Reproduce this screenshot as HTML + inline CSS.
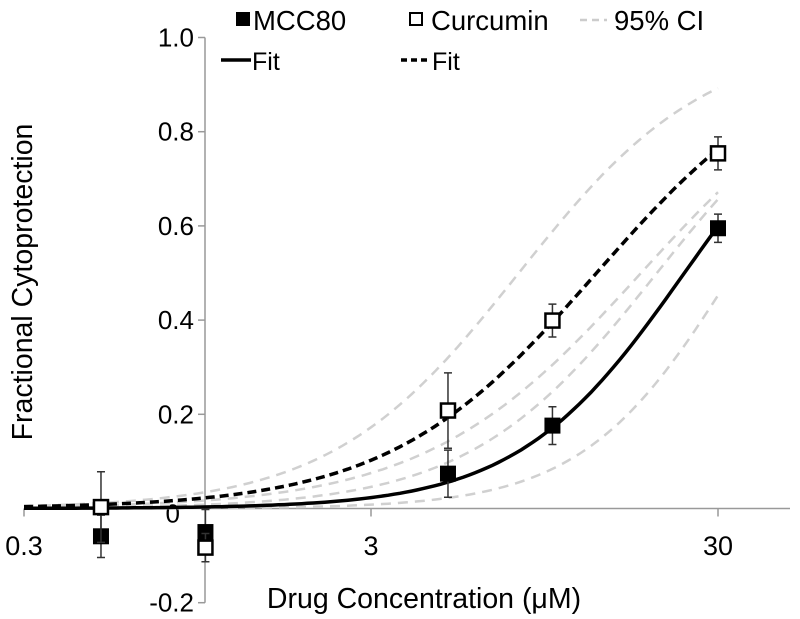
<!DOCTYPE html>
<html><head><meta charset="utf-8"><style>
html,body{margin:0;padding:0;background:#fff;}
svg{display:block;font-family:"Liberation Sans",Arial,sans-serif;}
</style></head><body>
<svg id="chart" width="800" height="619" viewBox="0 0 800 619">
<g id="axes"></g>
<g id="ci"></g>
<g id="fits"></g>
<g id="pts"></g>
<g id="legend">
  <rect x="236" y="12" width="14" height="14" fill="#000"/>
  <text x="253" y="30" font-size="27.5">MCC80</text>
  <rect x="410" y="13" width="12" height="12" fill="none" stroke="#000" stroke-width="2"/>
  <text x="431" y="30" font-size="27.5">Curcumin</text>
  <line x1="580" y1="20" x2="607" y2="20" stroke="#ccc" stroke-width="2.5" stroke-dasharray="7,5"/>
  <text x="614" y="30" font-size="27.5">95% CI</text>
  <line x1="221" y1="60" x2="251" y2="60" stroke="#000" stroke-width="3.5"/>
  <text x="252" y="70" font-size="25">Fit</text>
  <line x1="401" y1="60" x2="431" y2="60" stroke="#000" stroke-width="3.5" stroke-dasharray="6,4"/>
  <text x="432" y="70" font-size="25">Fit</text>
</g>
</svg>
<script>
const concs = [0.5, 1, 5, 10, 30];
const mccValues = [-0.059, -0.05, 0.074, 0.176, 0.595];
const mccErrors = [0.045, 0.048, 0.05, 0.04, 0.03];
const curValues = [0.003, -0.083, 0.208, 0.399, 0.754];
const curErrors = [0.075, 0.03, 0.08, 0.035, 0.035];
const mccFitParams = [24, 1.8];
const curFitParams = [13.4, 1.45];
const ciParams = [[8, 1.6], [18, 1.4], [20, 1.6], [33, 2.0]];
const xTicks = [0.3, 3, 30];
const xTickLabels = ["0.3", "3", "30"];
const yTicks = [-0.2, 0, 0.2, 0.4, 0.6, 0.8, 1.0];
const yTickLabels = ["-0.2", "0", "0.2", "0.4", "0.6", "0.8", "1.0"];

const NS = "http://www.w3.org/2000/svg";
const X0 = 24, DEC = 347, Y0 = 508.5, YS = 471;
function xs(c){ return X0 + DEC*Math.log10(c/0.3); }
function ys(v){ return Y0 - YS*v; }
function mk(tag, attrs, parent){
  const e = document.createElementNS(NS, tag);
  for (const k in attrs) e.setAttribute(k, attrs[k]);
  parent.appendChild(e); return e;
}
const axes = document.getElementById('axes');
let xa = mk('line', {x1: 24, y1: Y0, x2: 790, y2: Y0, stroke: '#999', 'stroke-width': 1.5}, axes);


let ya = mk('line', {x1: 205, y1: ys(1.0), x2: 205, y2: ys(-0.2), stroke: '#999', 'stroke-width': 1.5}, axes);


xTicks.forEach((t, i) => {
  const x = xs(t);
  let tk = mk('line', {x1: x, y1: Y0, x2: x, y2: Y0+8, stroke: '#999', 'stroke-width': 1.5}, axes);
  
  
  let tx = mk('text', {x: i===0 ? x : x, y: 555, 'font-size': 27, 'text-anchor': 'middle'}, axes);
  tx.textContent = xTickLabels[i];
  
  
});
yTicks.forEach((t, i) => {
  const y = ys(t);
  let tk = mk('line', {x1: 198, y1: y, x2: 205, y2: y, stroke: '#999', 'stroke-width': 1.5}, axes);
  
  
  let tx;
  if (t === 0) tx = mk('text', {x: 180, y: y+14, 'font-size': 26, 'text-anchor': 'end'}, axes);
  else tx = mk('text', {x: 194, y: y+9, 'font-size': 26, 'text-anchor': 'end'}, axes);
  tx.textContent = yTickLabels[i];
  
  
});
let xt = mk('text', {x: 424, y: 608, 'font-size': 28.5, 'text-anchor': 'middle'}, axes);
xt.textContent = 'Drug Concentration (\u03BCM)';


let yt = mk('text', {x: 0, y: 0, 'font-size': 28.5, 'text-anchor': 'middle', transform: 'translate(32,282) rotate(-90)'}, axes);
yt.textContent = 'Fractional Cytoprotection';



function hillPath(p){
  let d = '';
  for (let i = 0; i <= 120; i++){
    const c = 0.3*Math.pow(10, i/120*Math.log10(30/0.3));
    const v = Math.pow(c, p[1])/(Math.pow(p[0], p[1]) + Math.pow(c, p[1]));
    d += (i ? 'L' : 'M') + xs(c).toFixed(1) + ',' + ys(v).toFixed(1);
  }
  return d;
}
const ci = document.getElementById('ci');
ciParams.forEach(p => {
  let pa = mk('path', {d: hillPath(p), fill: 'none', stroke: '#d0d0d0', 'stroke-width': 2.5, 'stroke-dasharray': '10,7'}, ci);
  
  
});
const fits = document.getElementById('fits');
let f1 = mk('path', {d: hillPath(mccFitParams), fill: 'none', stroke: '#000', 'stroke-width': 3.5}, fits);


let f2 = mk('path', {d: hillPath(curFitParams), fill: 'none', stroke: '#000', 'stroke-width': 3.5, 'stroke-dasharray': '9,5'}, fits);



const pts = document.getElementById('pts');
function drawSeries(vals, errs, filled, name){
  concs.forEach((c, i) => {
    const x = xs(c), y = ys(vals[i]);
    let eb = mk('path', {d: `M${x},${ys(vals[i]+errs[i])}V${ys(vals[i]-errs[i])}M${x-4},${ys(vals[i]+errs[i])}h8M${x-4},${ys(vals[i]-errs[i])}h8`, stroke: '#333', 'stroke-width': 1.5, fill: 'none'}, pts);
    
    
    let r;
    if (filled) r = mk('rect', {x: x-8, y: y-8, width: 16, height: 16, fill: '#000'}, pts);
    else r = mk('rect', {x: x-7, y: y-7, width: 14, height: 14, fill: '#fff', stroke: '#000', 'stroke-width': 2.5}, pts);
    
    
  });
}
drawSeries(mccValues, mccErrors, true, 'mcc80');
drawSeries(curValues, curErrors, false, 'curcumin');
</script>
</body></html>
